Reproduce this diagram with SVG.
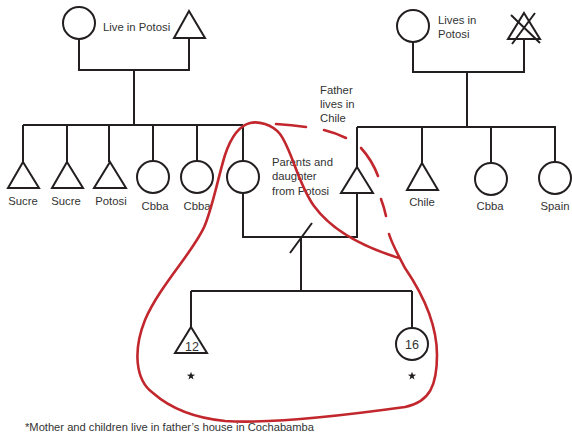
<svg xmlns="http://www.w3.org/2000/svg" width="572" height="436" viewBox="0 0 572 436">
<style>
.n{fill:#fff;stroke:#231f20;stroke-width:2}
.c{fill:none;stroke:#231f20;stroke-width:2}
.t{font-family:"Liberation Sans",Arial,sans-serif;font-size:11.3px;fill:#333}
.m{text-anchor:middle}
.r{fill:none;stroke:#c1272d;stroke-width:2.6;stroke-linecap:round}
</style>
<defs>
<polygon id="star" points="0,-4.3 1,-1.4 4.1,-1.3 1.6,0.5 2.5,3.5 0,1.7 -2.5,3.5 -1.6,0.5 -4.1,-1.3 -1,-1.4" fill="#231f20"/>
</defs>
<rect width="572" height="436" fill="#fff"/>
<g id="connectors">
<path class="c" d="M79,39V70H189V38M134,70V125M23,125H243M23,125V162M67,125V162M109,125V162M153,125V161M197,125V161M243,125V161"/>
<path class="c" d="M413,42V72H524V39M467,72V127M357,127H556M357,127V167M422,127V163M491,127V163M555,127V162"/>
<path class="c" d="M243,193V237H357V193M290,253L312,223M301,237V291M191,291H412M191,291V327M412,291V328"/>
</g>
<g id="left-mother"><circle class="n" cx="79" cy="23" r="16"/></g>
<g id="left-father"><polygon class="n" points="189,11 205,38 174,38"/></g>
<g id="left-label"><text class="t" x="103" y="31">Live in Potosi</text></g>
<g id="right-mother"><circle class="n" cx="413" cy="26" r="16"/></g>
<g id="right-father"><polygon class="n" points="524,13 540,39 508,39"/><path class="c" d="M511,15L540,43M535,13L512,44"/></g>
<g id="right-label"><text class="t" x="438" y="24">Lives in</text><text class="t" x="438" y="38">Potosi</text></g>
<g id="sib1"><polygon class="n" points="23,162 39,188 8,188"/><text class="t m" x="23" y="205">Sucre</text></g>
<g id="sib2"><polygon class="n" points="67,162 83,188 52,188"/><text class="t m" x="66" y="205">Sucre</text></g>
<g id="sib3"><polygon class="n" points="110,162 126,188 94,188"/><text class="t m" x="111" y="205">Potosi</text></g>
<g id="sib4"><circle class="n" cx="153" cy="177" r="16"/><text class="t m" x="155" y="210">Cbba</text></g>
<g id="sib5"><circle class="n" cx="197" cy="177" r="16"/><text class="t m" x="197" y="210">Cbba</text></g>
<g id="mother"><circle class="n" cx="243" cy="177" r="16"/></g>
<g id="parents-label"><text class="t" x="272" y="166">Parents and</text><text class="t" x="272" y="180">daughter</text><text class="t" x="272" y="195">from Potosi</text></g>
<g id="father"><polygon class="n" points="357,167 373,193 341,193"/></g>
<g id="father-label"><text class="t" x="320" y="94">Father</text><text class="t" x="320" y="108">lives in</text><text class="t" x="320" y="122">Chile</text></g>
<g id="sib6"><polygon class="n" points="422,163 438,190 407,190"/><text class="t m" x="422" y="206">Chile</text></g>
<g id="sib7"><circle class="n" cx="491" cy="179" r="16"/><text class="t m" x="490" y="210">Cbba</text></g>
<g id="sib8"><circle class="n" cx="555" cy="178" r="16"/><text class="t m" x="555" y="210">Spain</text></g>
<g id="son"><polygon class="n" points="191,327 207,353 175,353"/><text class="t m" x="192" y="351" style="font-size:12.5px">12</text><use href="#star" x="191" y="376"/></g>
<g id="daughter"><circle class="n" cx="412" cy="344" r="16"/><text class="t m" x="412" y="348.5" style="font-size:12.5px">16</text><use href="#star" x="412" y="376"/></g>
<g id="household">
<path class="r" d="M399,258C360,246 330,228 314,206C298,184 292,150 280,134C272,124 258,121 250,123C238,126 230,140 225,155C218,178 213,205 205,225C195,250 160,285 145,320C133,350 135,380 153,393C170,408 195,418 225,421C270,424 340,416 405,407C430,402 437,385 437,355C437,320 420,290 405,268C398,255 392,244 389,234"/>
<path class="r" d="M276,124Q292,125 306,127M324,130Q336,133 346,138M361,148Q372,160 378,176M381,199Q384,207 386,216"/>
</g>
<g id="footnote"><text class="t" x="25" y="431" textLength="289" lengthAdjust="spacingAndGlyphs" style="font-size:11px">*Mother and children live in father’s house in Cochabamba</text></g>
</svg>
